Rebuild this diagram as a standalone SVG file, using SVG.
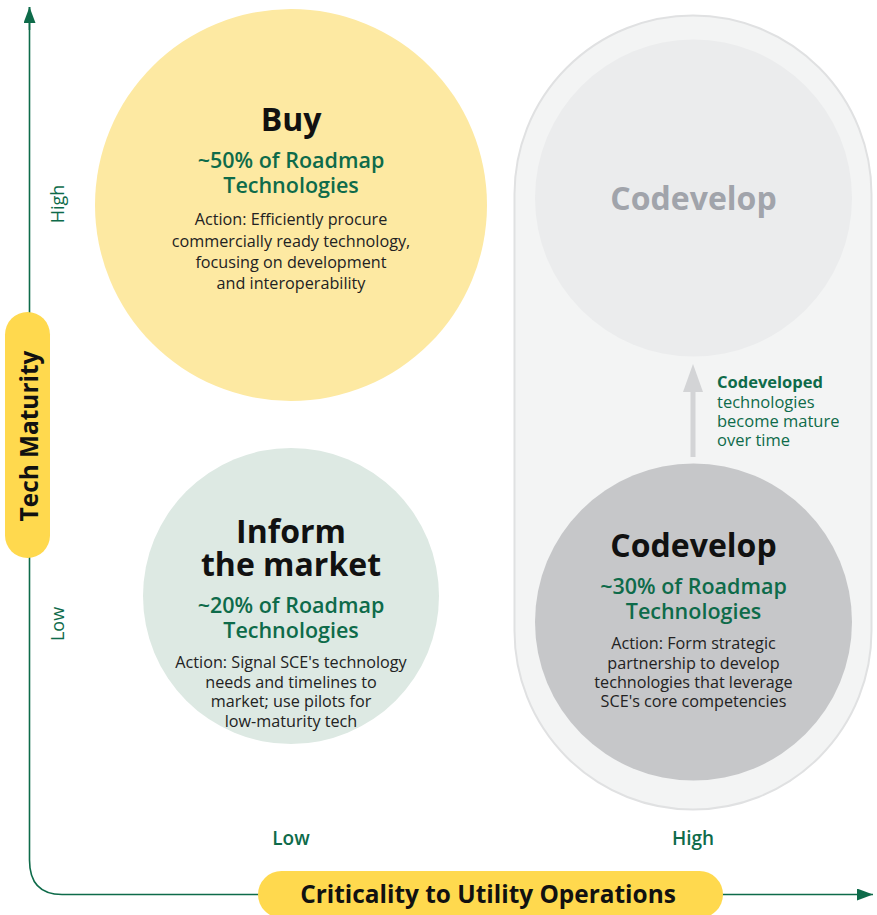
<svg xmlns="http://www.w3.org/2000/svg" width="877" height="915" viewBox="0 0 877 915">
<style>
  text { font-family: "Open Sans", "Noto Sans", "Liberation Sans", sans-serif; text-anchor: middle; }
  .title { font-size: 32px; font-weight: 700; fill: #111111; }
  .pct { font-size: 21.5px; font-weight: 600; fill: #0e6b4a; }
  .act { font-size: 16.2px; font-weight: 400; fill: #222222; }
  .axl { font-size: 19px; font-weight: 600; fill: #0e6b4a; }
  .axt { font-size: 24.4px; font-weight: 700; fill: #111111; }
  .note { font-size: 16.5px; font-weight: 400; fill: #0e6b4a; text-anchor: start; }
  .axis { fill: none; stroke: #0e6b4a; stroke-width: 1.6; }
</style>
<defs>
  <marker id="ah" viewBox="0 0 16 12" refX="16" refY="6" markerWidth="16" markerHeight="12" markerUnits="userSpaceOnUse" orient="auto">
    <path d="M0,0 L16,6 L0,12 Z" fill="#0e6b4a"/>
  </marker>
</defs>
<rect width="877" height="915" fill="#ffffff"/>

<g id="codevelop-zone">
  <rect x="514.5" y="15.5" width="357" height="794" rx="178.5" fill="#f3f4f4" stroke="#e0e1e2" stroke-width="2"/>
</g>

<g id="connectors">
  <path class="axis" d="M29.5,860 L29.5,7"/>
  <path class="axis" d="M29.5,30 L29.5,7" marker-end="url(#ah)"/>
  <path class="axis" d="M29.5,860 Q29.5,894.5 62,894.5 L873,894.5" marker-end="url(#ah)"/>
  <g id="maturity-arrow">
    <line x1="693" y1="457" x2="693" y2="388" stroke="#d3d4d6" stroke-width="5"/>
    <path d="M683,392 L693,364 L703,392 Z" fill="#d3d4d6"/>
  </g>
</g>

<g id="buy">
  <circle cx="291" cy="205" r="196" fill="#fde9a2"/>
  <text class="title" x="291" y="131">Buy</text>
  <text class="pct" x="291" y="168">~50% of Roadmap</text>
  <text class="pct" x="291" y="193">Technologies</text>
  <text class="act" x="291" y="225">Action: Efficiently procure</text>
  <text class="act" x="291" y="247">commercially ready technology,</text>
  <text class="act" x="291" y="268">focusing on development</text>
  <text class="act" x="291" y="289">and interoperability</text>
</g>

<g id="inform">
  <circle cx="291" cy="596" r="148" fill="#dde9e3"/>
  <text class="title" x="291" y="543">Inform</text>
  <text class="title" x="291" y="576">the market</text>
  <text class="pct" x="291" y="613">~20% of Roadmap</text>
  <text class="pct" x="291" y="638">Technologies</text>
  <text class="act" x="291" y="668">Action: Signal SCE's technology</text>
  <text class="act" x="291" y="688">needs and timelines to</text>
  <text class="act" x="291" y="707">market; use pilots for</text>
  <text class="act" x="291" y="727">low-maturity tech</text>
</g>

<g id="codevelop-mature">
  <circle cx="693.5" cy="198" r="158.5" fill="#ebeced"/>
  <text class="title" x="693.5" y="210" style="fill:#a1a4ab">Codevelop</text>
</g>

<g id="codevelop">
  <circle cx="693.5" cy="622" r="158.5" fill="#c6c7c9"/>
  <text class="title" x="693.5" y="557">Codevelop</text>
  <text class="pct" x="693.5" y="594">~30% of Roadmap</text>
  <text class="pct" x="693.5" y="619">Technologies</text>
  <text class="act" x="693.5" y="649">Action: Form strategic</text>
  <text class="act" x="693.5" y="669">partnership to develop</text>
  <text class="act" x="693.5" y="688">technologies that leverage</text>
  <text class="act" x="693.5" y="707">SCE's core competencies</text>
</g>

<g id="maturity-note">
  <text class="note" x="717" y="388" style="font-weight:700">Codeveloped</text>
  <text class="note" x="717" y="408">technologies</text>
  <text class="note" x="717" y="427">become mature</text>
  <text class="note" x="717" y="446">over time</text>
</g>

<g id="y-axis-label">
  <rect x="5" y="312" width="45" height="246" rx="22.5" fill="#ffd94e"/>
  <text class="axt" transform="translate(37.5,436) rotate(-90)">Tech Maturity</text>
  <text class="axl" style="font-weight:500;font-size:18px" transform="translate(64,204) rotate(-90)">High</text>
  <text class="axl" style="font-weight:500;font-size:18px" transform="translate(64,624) rotate(-90)">Low</text>
</g>

<g id="x-axis-label">
  <rect x="258" y="871" width="465" height="47" rx="23.5" fill="#ffd94e"/>
  <text class="axt" x="488" y="903">Criticality to Utility Operations</text>
  <text class="axl" x="291" y="845">Low</text>
  <text class="axl" x="693" y="845">High</text>
</g>
</svg>
